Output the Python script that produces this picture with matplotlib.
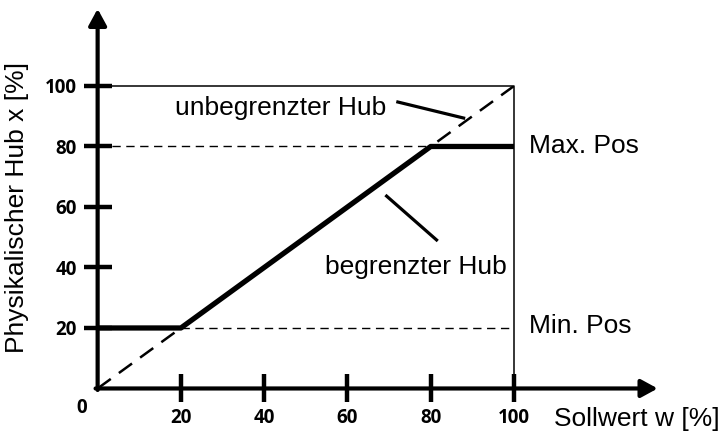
import matplotlib
matplotlib.use('Agg')
import matplotlib.pyplot as plt

# --- data ---
w_limited = [0, 20, 80, 100]          # Sollwert w [%]
x_limited = [20, 20, 80, 80]          # physikalischer Hub (begrenzt)
w_free = [0, 100]                     # unbegrenzter Hub
x_free = [0, 100]
MIN_POS = 20
MAX_POS = 80
FULL = 100
ticks = [20, 40, 60, 80, 100]

LABEL_FONT = 'Liberation Sans'
TICK_FONT = 'Open Sans'

fig = plt.figure(figsize=(7.2, 4.36), dpi=100)
ax = fig.add_axes([0.1356, 0.109, 0.5783, 0.6938])
ax.set_xlim(0, FULL)
ax.set_ylim(0, FULL)
for s in ax.spines.values():
    s.set_visible(False)

# axes with arrows
arrow = dict(arrowstyle='-|>,head_length=0.55,head_width=0.3', lw=3,
             color='black', mutation_scale=18, shrinkA=0, shrinkB=0)
ax.annotate('', xy=(0, 125.5), xytext=(0, -0.5), arrowprops=arrow,
            annotation_clip=False)
ax.annotate('', xy=(134.5, 0), xytext=(-0.5, 0), arrowprops=arrow,
            annotation_clip=False)

# ticks
ax.set_xticks(ticks)
ax.set_yticks(ticks)
ax.tick_params(direction='inout', length=20, width=3.2, color='black',
               labelsize=13.5)
ax.tick_params(axis='x', pad=4)
ax.tick_params(axis='y', pad=5)
for lab in ax.get_xticklabels() + ax.get_yticklabels():
    lab.set_fontfamily(TICK_FONT)
    lab.set_fontweight('bold')
ax.text(-3.9, -6.3, '0', fontsize=13.5, fontweight='bold', family=TICK_FONT,
        ha='center', va='center')

# frame of 100% range
ax.plot([0, FULL, FULL], [FULL, FULL, 0], color='black', lw=1.1,
        clip_on=False, zorder=2)

# helper dashed lines at min / max position
ax.plot([0, MAX_POS], [MAX_POS, MAX_POS], color='black', lw=1.0,
        ls=(0, (6, 4)), zorder=2)
ax.plot([MIN_POS, FULL], [MIN_POS, MIN_POS], color='black', lw=1.0,
        ls=(0, (6, 4)), zorder=2)

# unbegrenzter Hub (diagonal)
ax.plot(w_free, x_free, color='black', lw=1.8, ls=(0, (6.5, 4)), zorder=3)

# begrenzter Hub
ax.plot(w_limited, x_limited, color='black', lw=3.8, solid_capstyle='butt',
        clip_on=False, zorder=4)

# annotations
ax.text(44, 92.7, 'unbegrenzter Hub', fontsize=19, family=LABEL_FONT,
        ha='center', va='center')
ax.plot([72.1, 87.9], [94.7, 89.4], color='black', lw=2.3)
ax.text(76.4, 40.2, 'begrenzter Hub', fontsize=19, family=LABEL_FONT,
        ha='center', va='center')
ax.plot([69.4, 81.4], [63.6, 49.1], color='black', lw=2.3)

ax.text(103.7, MAX_POS, 'Max. Pos', fontsize=19, family=LABEL_FONT,
        ha='left', va='center')
ax.text(103.7, MIN_POS + 0.5, 'Min. Pos', fontsize=19, family=LABEL_FONT,
        ha='left', va='center')

ax.text(109.5, -10, 'Sollwert w [%]', fontsize=19, family=LABEL_FONT,
        ha='left', va='center')
ax.text(-19.3, 59.7, 'Physikalischer Hub x [%]', fontsize=19,
        family=LABEL_FONT, ha='center', va='center', rotation=90)

fig.savefig('out.png', dpi=100, facecolor='white')
